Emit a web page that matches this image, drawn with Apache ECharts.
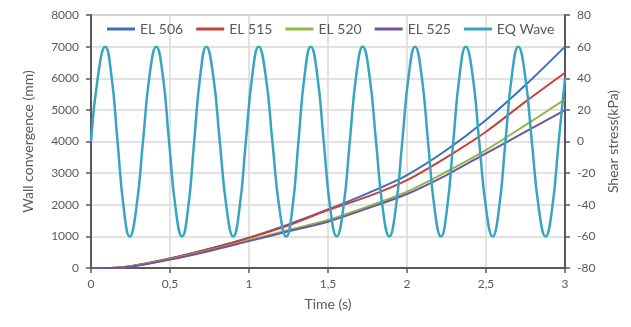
<!DOCTYPE html>
<html>
<head>
<meta charset="utf-8">
<script src="https://cdn.jsdelivr.net/npm/echarts@6/dist/echarts.min.js"></script>
<style>
  html, body { margin: 0; padding: 0; background: #ffffff; }
  #chart { width: 631px; height: 327px; }
</style>
</head>
<body>
<div id="chart"></div>
<script>
// Time axis (s) for the wall convergence curves
const convTime = [0, 0.125, 0.25, 0.5, 0.75, 1.0, 1.25, 1.5, 1.75, 2.0, 2.25, 2.5, 2.75, 3.0];
// Wall convergence (mm) at each elevation
const el506 = [0, 0, 55, 300, 610, 960, 1380, 1850, 2360, 2940, 3730, 4680, 5785, 7000];
const el515 = [0, 0, 55, 300, 600, 950, 1350, 1835, 2255, 2780, 3500, 4310, 5260, 6175];
const el520 = [0, 0, 45, 275, 560, 880, 1200, 1520, 1940, 2415, 3045, 3730, 4520, 5330];
const el525 = [0, 0, 40, 265, 540, 850, 1160, 1465, 1885, 2340, 2940, 3625, 4310, 4995];

// Earthquake input wave: shear stress (kPa) read at peaks, troughs,
// zero crossings and the shoulders between them
const waveTime = [
  0, 0.045, 0.090, 0.129, 0.168, 0.207, 0.245, 0.287, 0.329, 0.371,
  0.413, 0.454, 0.494, 0.535, 0.576, 0.615, 0.653, 0.692, 0.730, 0.773,
  0.815, 0.858, 0.900, 0.940, 0.980, 1.021, 1.061, 1.105, 1.148, 1.192,
  1.236, 1.275, 1.313, 1.352, 1.391, 1.432, 1.473, 1.514, 1.555, 1.597,
  1.638, 1.679, 1.720, 1.762, 1.804, 1.846, 1.888, 1.929, 1.970, 2.011,
  2.051, 2.092, 2.133, 2.174, 2.215, 2.254, 2.293, 2.333, 2.372, 2.415,
  2.457, 2.500, 2.542, 2.583, 2.623, 2.664, 2.704, 2.747, 2.790, 2.834,
  2.877, 2.919, 2.960, 3.000];
const waveStress = [
  0, 42, 60, 42, 0, -42, -60, -42, 0, 42,
  60, 42, 0, -42, -60, -42, 0, 42, 60, 42,
  0, -42, -60, -42, 0, 42, 60, 42, 0, -42,
  -60, -42, 0, 42, 60, 42, 0, -42, -60, -42,
  0, 42, 60, 42, 0, -42, -60, -42, 0, 42,
  60, 42, 0, -42, -60, -42, 0, 42, 60, 42,
  0, -42, -60, -42, 0, 42, 60, 42, 0, -42,
  -60, -42, 0, 40];

const seriesNames = ['EL 506', 'EL 515', 'EL 520', 'EL 525', 'EQ Wave'];
const xTickLabels = ['0', '0,5', '1', '1,5', '2', '2,5', '3'];

const colors = ['#3d6dbd', '#c8403a', '#8cb943', '#7253a1', '#39a4c2'];
const textColor = '#595959';
const font = 'Lato, "Open Sans", sans-serif';

function pairs(xs, ys) { return xs.map((x, i) => [x, ys[i]]); }

const chart = echarts.init(document.getElementById('chart'), null, { renderer: 'canvas' });

const lineSeries = (name, data, color, width, axisIndex, smooth) => ({
  name: name,
  type: 'line',
  yAxisIndex: axisIndex,
  data: data,
  smooth: smooth,
  symbol: 'none',
  lineStyle: { color: color, width: width },
  itemStyle: { color: color },
  emphasis: { disabled: true },
  animation: false
});

chart.setOption({
  animation: false,
  grid: {
    left: 91, right: 66, top: 15, bottom: 59,
    show: true, borderColor: '#8c8c8c', borderWidth: 1
  },
  legend: {
    data: seriesNames,
    left: 107, top: 22, padding: 0,
    icon: 'rect',
    itemWidth: 28, itemHeight: 3, itemGap: 13,
    textStyle: { color: textColor, fontFamily: font, fontSize: 14 }
  },
  xAxis: {
    type: 'value', min: 0, max: 3, interval: 0.5,
    name: 'Time (s)', nameLocation: 'middle', nameGap: 29,
    nameTextStyle: { color: textColor, fontFamily: font, fontSize: 14 },
    axisLine: { show: true, lineStyle: { color: '#595959', width: 2 } },
    axisTick: { show: true, length: 5, lineStyle: { color: '#595959', width: 1.5 } },
    axisLabel: {
      color: textColor, fontFamily: font, fontSize: 12, margin: 10,
      formatter: v => xTickLabels[Math.round(v / 0.5)]
    },
    splitLine: { show: true, lineStyle: { color: '#d9d9d9', width: 1.5 } }
  },
  yAxis: [{
    type: 'value', min: 0, max: 8000, interval: 1000, position: 'left',
    name: 'Wall convergence (mm)', nameLocation: 'middle', nameGap: 56,
    nameTextStyle: { color: textColor, fontFamily: font, fontSize: 14 },
    axisLine: { show: true, lineStyle: { color: '#595959', width: 2 } },
    axisTick: { show: true, length: 5, lineStyle: { color: '#595959', width: 1.5 } },
    axisLabel: { color: textColor, fontFamily: font, fontSize: 12, margin: 12, formatter: v => String(v) },
    splitLine: { show: true, lineStyle: { color: '#d9d9d9', width: 1.5 } }
  }, {
    type: 'value', min: -80, max: 80, interval: 20, position: 'right',
    name: 'Shear stress(kPa)', nameLocation: 'middle', nameGap: 40,
    nameTextStyle: { color: textColor, fontFamily: font, fontSize: 14 },
    axisLine: { show: true, lineStyle: { color: '#595959', width: 2 } },
    axisTick: { show: true, length: 5, lineStyle: { color: '#595959', width: 1.5 } },
    axisLabel: { color: textColor, fontFamily: font, fontSize: 12, margin: 12, formatter: v => String(v) },
    splitLine: { show: false }
  }],
  series: [
    lineSeries(seriesNames[0], pairs(convTime, el506), colors[0], 2, 0, 0.3),
    lineSeries(seriesNames[1], pairs(convTime, el515), colors[1], 2, 0, 0.3),
    lineSeries(seriesNames[2], pairs(convTime, el520), colors[2], 2, 0, 0.3),
    lineSeries(seriesNames[3], pairs(convTime, el525), colors[3], 2, 0, 0.3),
    lineSeries(seriesNames[4], pairs(waveTime, waveStress), colors[4], 2.5, 1, true)
  ]
});
</script>
</body>
</html>
